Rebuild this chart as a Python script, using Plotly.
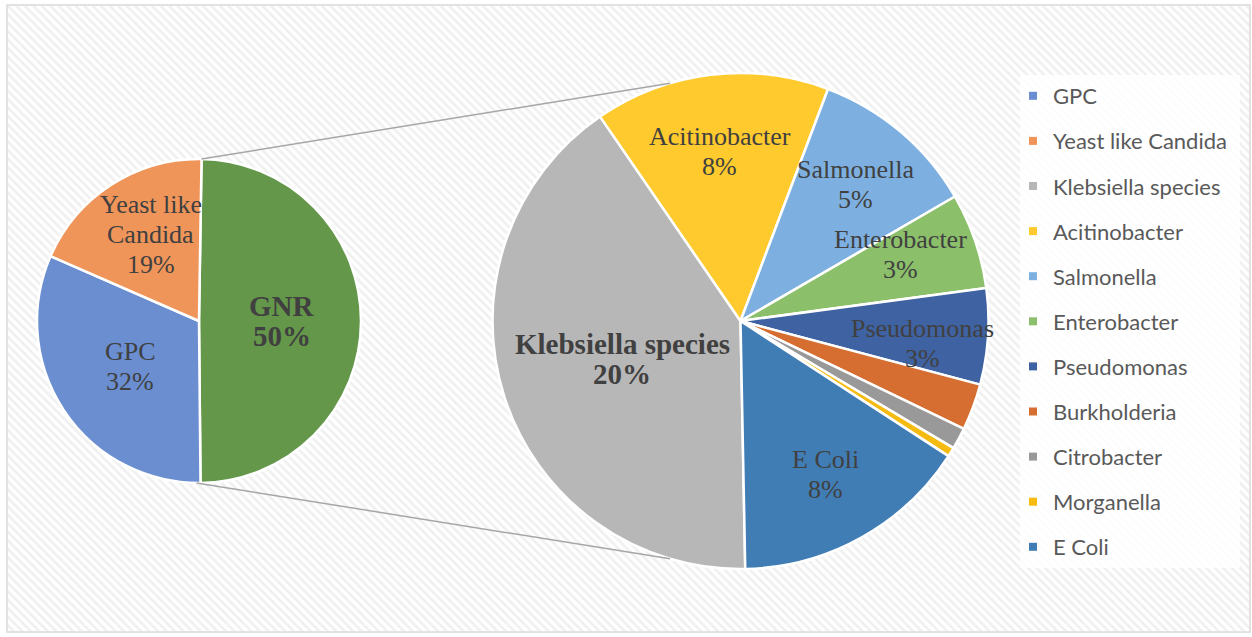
import math
import plotly.graph_objects as go

# ---------------- data ----------------
main_labels = ["GNR", "GPC", "Yeast like Candida"]          # left pie, clockwise
main_values = [49.6, 31.7, 18.7]
gnr_labels = ["Klebsiella species", "Acitinobacter", "Salmonella", "Enterobacter",
              "Pseudomonas", "Burkholderia", "Citrobacter", "Morganella", "E Coli"]
gnr_values = [20.2, 7.6, 5.4, 3.1, 3.1, 1.5, 0.7, 0.3, 7.7]
legend_labels = ["GPC", "Yeast like Candida"] + gnr_labels

# ---------------- styles ----------------
colors = {
    "GNR": "#64974A", "GPC": "#6A8ED0", "Yeast like Candida": "#F0955A",
    "Klebsiella species": "#B7B7B7", "Acitinobacter": "#FFCA2E", "Salmonella": "#7DB0E0",
    "Enterobacter": "#8CBF6A", "Pseudomonas": "#3F62A2", "Burkholderia": "#D56E30",
    "Citrobacter": "#999999", "Morganella": "#F5BB10", "E Coli": "#417DB5",
}
display_names = {"Yeast like Candida": ["Yeast like", "Candida"]}
bold_labels = {"GNR", "Klebsiella species"}
main_label_r = [0.51, 0.51, 0.61]
main_label_da = [0, 0, 3.5]
gnr_label_r = [0.50, 0.69, 0.72, 0.70, 0.74, None, None, None, 0.71]
gnr_label_da = [0, 0, 0, -3.6, 3.3, 0, 0, 0, 0]

W, H = 1252, 637
LCX, LCY, LR = 199, 321, 162       # left pie geometry (px)
RCX, RCY, RR = 740.5, 321, 248     # right pie geometry (px)
main_rot = 0.9
gnr_rot = 178.9
TEXT_COLOR = "#404040"


def px(x):
    return x / W


def py(y):
    return 1 - y / H


def mids(values, rot):
    tot = sum(values)
    a = rot
    out = []
    for v in values:
        span = v / tot * 360
        out.append(a + span / 2)
        a += span
    return out


fig = go.Figure()

# hatched background (pattern-filled bar spanning the chart area)
fig.add_trace(go.Bar(
    x=[0], y=[1], width=[1], hoverinfo="skip", showlegend=False,
    marker=dict(color="white", line=dict(width=0),
                pattern=dict(shape="\\", size=6, solidity=0.45, fgcolor="#e2e2e2")),
))

fig.add_trace(go.Pie(
    labels=main_labels, values=main_values, sort=False, direction="clockwise",
    rotation=main_rot, textinfo="none", showlegend=False, hoverinfo="label+percent",
    marker=dict(colors=[colors[l] for l in main_labels], line=dict(color="white", width=2.5)),
    domain=dict(x=[px(LCX - LR), px(LCX + LR)], y=[py(LCY + LR), py(LCY - LR)]),
))
fig.add_trace(go.Pie(
    labels=gnr_labels, values=gnr_values, sort=False, direction="clockwise",
    rotation=gnr_rot, textinfo="none", showlegend=False, hoverinfo="label+value",
    marker=dict(colors=[colors[l] for l in gnr_labels], line=dict(color="white", width=2.5)),
    domain=dict(x=[px(RCX - RR), px(RCX + RR)], y=[py(RCY + RR), py(RCY - RR)]),
))

# legend entries
for i, lab in enumerate(legend_labels):
    fig.add_trace(go.Scatter(
        x=[None], y=[None], mode="markers", name=lab, legendgroup=lab,
        marker=dict(symbol="square", size=8, color=colors[lab]),
    ))

total = sum(main_values)
annotations = []


def add_labels(labels, values, rot, cx, cy, R, rads, das):
    for lab, v, m, f, da in zip(labels, values, mids(values, rot), rads, das):
        if f is None:
            continue
        lines = display_names.get(lab, [lab]) + [f"{round(v / total * 100)}%"]
        a = math.radians(m + da)
        x0 = cx + f * R * math.sin(a)
        y0 = cy - f * R * math.cos(a)
        bold = lab in bold_labels
        n = len(lines)
        for k, t in enumerate(lines):
            yy = y0 + (k - (n - 1) / 2) * 30
            annotations.append(dict(
                x=px(x0), y=py(yy), xref="paper", yref="paper", showarrow=False,
                text=f"<b>{t}</b>" if bold else t, xanchor="center", yanchor="middle",
                font=dict(family="Liberation Serif", size=29 if bold else 26, color=TEXT_COLOR),
            ))


add_labels(main_labels, main_values, main_rot, LCX, LCY, LR, main_label_r, main_label_da)
add_labels(gnr_labels, gnr_values, gnr_rot, RCX, RCY, RR, gnr_label_r, gnr_label_da)

# connector lines between the pies
ang = math.radians(main_rot)
top_l = (LCX + LR * math.sin(ang), LCY - LR * math.cos(ang))
bot_l = (LCX - LR * math.sin(ang), LCY + LR * math.cos(ang))
ca = math.radians(16.5)
top_r = (RCX - RR * math.sin(ca), RCY - RR * math.cos(ca))
bot_r = (RCX - RR * math.sin(ca), RCY + RR * math.cos(ca))
shapes = [
    dict(type="line", xref="paper", yref="paper", x0=px(top_l[0]), y0=py(top_l[1]),
         x1=px(top_r[0]), y1=py(top_r[1]), line=dict(color="#a6a6a6", width=1.5), layer="above"),
    dict(type="line", xref="paper", yref="paper", x0=px(bot_l[0]), y0=py(bot_l[1]),
         x1=px(bot_r[0]), y1=py(bot_r[1]), line=dict(color="#a6a6a6", width=1.5), layer="above"),
    # legend panel
    dict(type="rect", xref="paper", yref="paper", x0=px(1020), x1=px(1240), y0=py(568), y1=py(75),
         fillcolor="rgba(255,255,255,0.85)", line=dict(width=0), layer="above"),
    # chart border
    dict(type="rect", xref="paper", yref="paper", x0=px(7), x1=px(1250), y0=py(632), y1=py(5),
         line=dict(color="#d9d9d9", width=1.5), layer="above"),
]

fig.update_layout(
    width=W, height=H, margin=dict(l=0, r=0, t=0, b=0),
    paper_bgcolor="white", plot_bgcolor="rgba(0,0,0,0)",
    xaxis=dict(domain=[px(8), px(1249)], range=[-0.5, 0.5], visible=False, fixedrange=True),
    yaxis=dict(domain=[py(631), py(6)], range=[0, 1], visible=False, fixedrange=True),
    bargap=0,
    showlegend=True,
    legend=dict(x=px(1013), y=py(75), xanchor="left", yanchor="top",
                bgcolor="rgba(0,0,0,0)", traceorder="grouped", tracegroupgap=13.5,
                font=dict(family="Lato", size=22, color="#595959")),
    annotations=annotations,
    shapes=shapes,
)

fig.write_html("out.html")
